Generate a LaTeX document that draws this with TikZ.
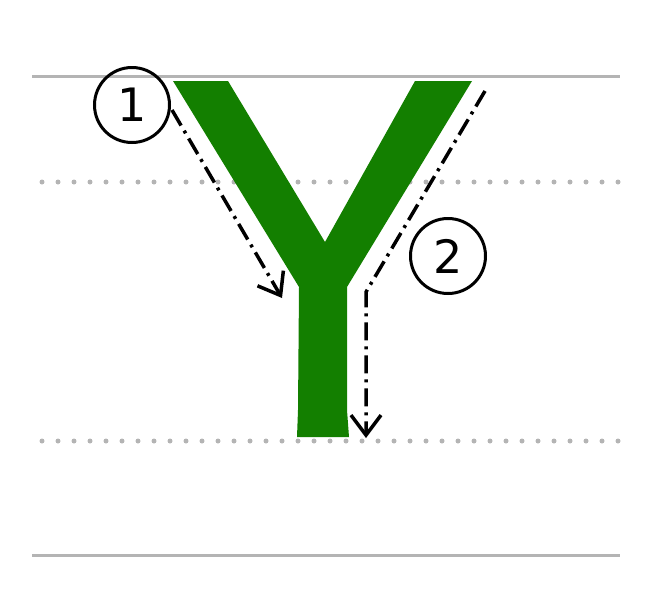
\documentclass[tikz,border=0pt]{standalone}
\usepackage{fontspec}
\setmainfont{DejaVu Sans}
\usetikzlibrary{arrows.meta}
\definecolor{ygreen}{RGB}{19,127,0}
\definecolor{guide}{RGB}{180,180,180}
\tikzset{
  guidesolid/.style={draw=guide,line width=3pt},
  guidedot/.style={draw=guide,line width=5pt,line cap=round,dash pattern=on 0pt off 16pt},
  numcircle/.style={circle,draw=black,line width=3pt,minimum size=75pt,inner sep=0pt,font=\fontsize{46}{46}\selectfont},
  strokearrow/.style={draw=black,line width=3.5pt,dash pattern=on 18pt off 6pt on 3pt off 6pt,
    -{Straight Barb[length=20pt,width=30pt,line width=3.5pt]}},
}
\begin{document}
\begin{tikzpicture}[x=1pt,y=-1pt]
\useasboundingbox (0,0) rectangle (650,600);
% guide lines
\draw[guidesolid] (32,76) -- (620,76);
\draw[guidedot] (42,182) -- (620,182);
\draw[guidedot] (42,441) -- (620,441);
\draw[guidesolid] (32,555) -- (620,555);
% letter Y
\fill[ygreen] (173,81) -- (228,81) -- (325,242) -- (415,81) -- (472,81) -- (347,287)
  -- (347,410) -- (349,437) -- (297,437) -- (298,410) -- (299,287) -- cycle;
% number circles
\node[numcircle] (n1) at (132,105) {1};
\node[numcircle] (n2) at (448,256) {2};
% stroke arrows
\coordinate (s1a) at (172,110);
\coordinate (s1b) at (282,298);
\coordinate (s2a) at (485,91);
\coordinate (s2b) at (366,292);
\coordinate (s2c) at (366,438);
\draw[strokearrow] (s1a) -- (s1b);
\draw[strokearrow] (s2a) -- (s2b) -- (s2c);
\end{tikzpicture}
\end{document}
